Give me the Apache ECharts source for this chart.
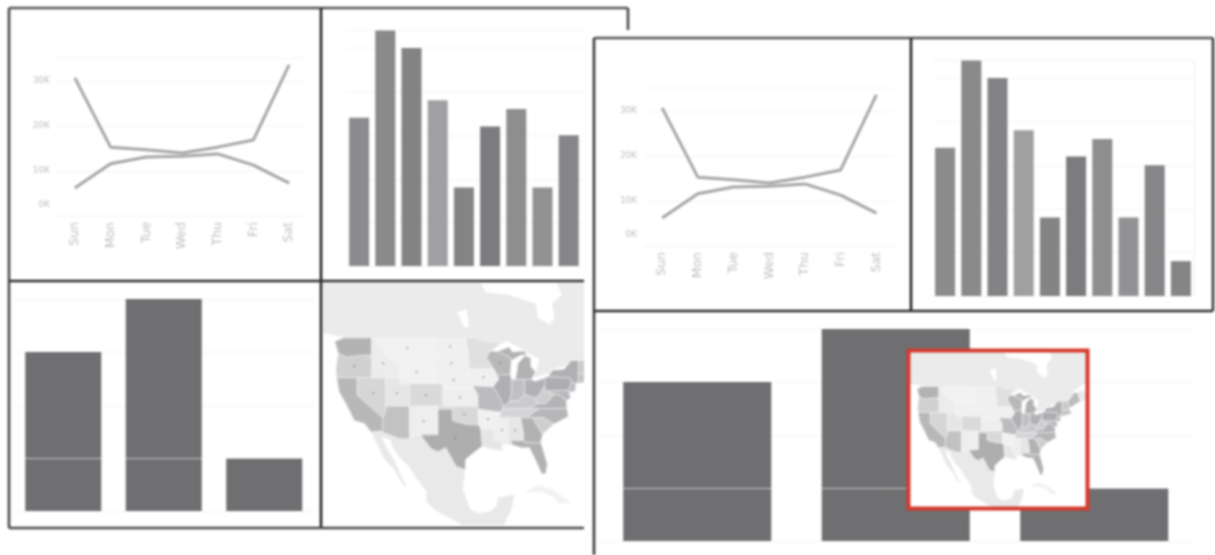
<!DOCTYPE html>
<html><head><meta charset="utf-8">
<style>html,body{margin:0;padding:0;background:#fff}#c{width:1215px;height:555px;filter:blur(0.8px)}</style>
<script src="https://cdn.jsdelivr.net/npm/echarts@6/dist/echarts.min.js"></script>
</head><body><div id="c"></div>
<script>
// ---- data ----
const days = ['Sun','Mon','Tue','Wed','Thu','Fri','Sat'];
const lineA = [30.7,15.3,14.7,14,15.3,16.9,33.6];
const lineB = [6.2,11.6,13.1,13.3,13.8,11.3,7.3];
const lineTicks = [2.5,10,20,30];
const lineTickText = {2.5:'0K',10:'10K',20:'20K',30:'30K'};
const tenBars = ['A','B','C','D','E','F','G','H','I','J'];
const tenValues = [34,54,50,38,18,32,36,18,30,8];
const tenShades = ['#8c8c8e','#8a8a8a','#838385','#a0a0a2','#848484','#7c7c7e','#8e8e90','#929294','#868688','#858585'];
const threeBars = ['X','Y','Z'];
const threeValues = [30,40,10];

const stateNames = ['WA','OR','CA','NV','ID','MT','WY','UT','AZ','CO','NM','ND','SD','NE','KS','OK','TX','MN','IA','MO','AR','LA','WI','IL','IN','MI','OH','KY','TN','MS','AL','GA','FL','SC','NC','VA','WV','MD','PA','NJ','NY','NE3','VN','ME'];
const stateShades = ['#b3b3b3','#d0d0d0','#b8b8b8','#d6d6d6','#ececec','#f1f1f1','#f1f1f1','#e6e6e6','#c2c2c2','#dadada','#eeeeee','#f0f0f0','#f0f0f0','#f0f0f0','#eeeeee','#d8d8d8','#aeaeae','#e0e0e0','#f0f0f0','#bcbcc0','#f1f1f1','#e6e6e6','#b8b8b8','#b0b0b4','#c0c0c4','#b2b2b4','#b2b2b6','#cacace','#d4d4d8','#eeeeee','#e6e6e6','#b2b2b4','#b2b2b4','#cecece','#b6b6b8','#b4b4b8','#cececf','#b8b8bc','#aeaeb2','#bcbcbc','#b0b0b4','#c4c4c4','#c8c8c8','#bcbcbc'];
const dottedStates = ['OR','ID','MT','WY','NV','UT','CO','NM','ND','SD','NE','KS','OK','IA','AR','WI','AL','MS','TX'];
const backNames = ['Canada','NB','Winnipeg','Mexico','Cuba'];
const backShades = ['#ebebeb','#ebebeb','#ffffff','#e9e9e9','#f2f2f2'];
const outlines = {
WA:[[[-124.7,48.4],[-122.8,49],[-117,49],[-117,46],[-119,45.9],[-122.3,45.6],[-124,46.3]]],
OR:[[[-124,46.3],[-122.3,45.6],[-119,45.9],[-117,46],[-116.9,44],[-117,42],[-124.3,42],[-124.5,43.5]]],
CA:[[[-124.3,42],[-120,42],[-120,39],[-114.6,35],[-114.7,32.7],[-117.1,32.5],[-118.5,34],[-120.6,34.5],[-122.4,37.5],[-123.8,39.5]]],
NV:[[[-120,42],[-114,42],[-114,36.2],[-114.6,35],[-120,39]]],
ID:[[[-117,49],[-116,49],[-116,47.9],[-114.5,46.6],[-113.5,45.5],[-111,44.5],[-111,42],[-117,42],[-116.9,44],[-117,46]]],
MT:[[[-116,49],[-104,49],[-104,45],[-111,45],[-111,44.5],[-113.5,45.5],[-114.5,46.6],[-116,47.9]]],
WY:[[[-111,45],[-104,45],[-104,41],[-111,41]]],
UT:[[[-114,42],[-111,42],[-111,41],[-109,41],[-109,37],[-114,37]]],
AZ:[[[-114,37],[-109,37],[-109,31.3],[-111,31.3],[-114.8,32.5],[-114.7,32.7],[-114.6,35],[-114,36.2]]],
CO:[[[-109,41],[-102,41],[-102,37],[-109,37]]],
NM:[[[-109,37],[-103,37],[-103,32],[-106.6,32],[-106.5,31.8],[-108.2,31.8],[-108.2,31.3],[-109,31.3]]],
ND:[[[-104,49],[-97.2,49],[-96.6,46],[-104,46]]],
SD:[[[-104,46],[-96.6,46],[-96.5,42.5],[-98,43],[-104,43]]],
NE:[[[-104,43],[-98,43],[-96.5,42.5],[-95.3,40],[-102,40],[-102,41],[-104,41]]],
KS:[[[-102,40],[-95.3,40],[-94.6,39],[-94.6,37],[-102,37]]],
OK:[[[-103,37],[-94.6,37],[-94.4,33.7],[-97,33.8],[-100,34.5],[-100,36.5],[-103,36.5]]],
TX:[[[-103,36.5],[-100,36.5],[-100,34.5],[-97,33.8],[-94.4,33.7],[-94,33],[-93.7,30],[-95,29.2],[-97.2,27.7],[-97.3,25.9],[-99.2,26.5],[-101.4,29.8],[-103,29],[-104.5,29.6],[-106.5,31.8],[-106.6,32],[-103,32]]],
MN:[[[-97.2,49],[-95.2,49],[-94.5,48.7],[-92,48.3],[-89.6,48],[-92,46.7],[-92.8,45.5],[-91.2,43.5],[-96.5,43.5],[-96.6,46]]],
IA:[[[-96.5,43.5],[-91.2,43.5],[-90.2,41.8],[-91.4,40.4],[-95.7,40.6],[-96.5,42.5]]],
MO:[[[-95.7,40.6],[-91.4,40.4],[-90.2,38.8],[-89.2,37],[-89.7,36],[-90.4,36],[-94.6,36.5],[-94.6,39],[-95.3,40]]],
AR:[[[-94.6,36.5],[-90.4,36],[-89.7,36],[-91.2,33],[-94,33],[-94.4,33.7]]],
LA:[[[-94,33],[-91.2,33],[-91,31],[-89.7,31],[-89.4,29.3],[-91.5,29.4],[-93.7,30]]],
WI:[[[-92,46.7],[-90.5,46.6],[-88,45.7],[-87.6,45],[-87.8,42.5],[-90.6,42.5],[-91.2,43.5],[-92.8,45.5]]],
IL:[[[-90.6,42.5],[-87.8,42.5],[-87.5,41.7],[-87.5,39.3],[-88,37.8],[-89.2,37],[-90.2,38.8],[-91.4,40.4],[-90.2,41.8]]],
IN:[[[-87.5,41.7],[-84.8,41.7],[-84.8,39.1],[-86,38],[-88,37.8],[-87.5,39.3]]],
MI:[[[-84.8,41.7],[-83.4,41.7],[-82.5,43],[-83.5,44],[-83.5,45.5],[-84.8,45.8],[-86.2,44.5],[-86.5,42.5],[-86.8,41.75]],[[-90.5,46.6],[-88,47.4],[-87.4,46.5],[-85,46.7],[-84.2,46],[-85.5,46],[-87.6,45],[-88,45.7]]],
OH:[[[-84.8,41.7],[-83.4,41.7],[-82.5,41.4],[-80.5,42],[-80.5,40.6],[-81.7,39],[-82.6,38.4],[-84.8,39.1]]],
KY:[[[-89.2,37],[-88,37.8],[-86,38],[-84.8,39.1],[-82.6,38.4],[-82,37.5],[-83.7,36.6],[-89.5,36.5]]],
TN:[[[-89.7,36],[-89.5,36.5],[-83.7,36.6],[-81.7,36.6],[-84.3,35],[-90.2,35]]],
MS:[[[-90.2,35],[-88.2,35],[-88.4,30.3],[-89.7,30.2],[-89.7,31],[-91,31],[-91.2,33]]],
AL:[[[-88.2,35],[-85.6,35],[-85,32.3],[-85,31],[-87.6,31],[-87.5,30.3],[-88.4,30.3]]],
GA:[[[-85.6,35],[-83.1,35],[-81,32.1],[-81.4,30.7],[-82.2,30.5],[-84.9,30.7],[-85,31],[-85,32.3]]],
FL:[[[-87.6,31],[-85,31],[-84.9,30.7],[-82.2,30.5],[-81.4,30.7],[-80,26.8],[-80.4,25.2],[-81.2,25.2],[-82.7,28],[-83.8,29.8],[-85.3,29.7],[-87.5,30.3]]],
SC:[[[-83.1,35],[-81,35.1],[-78.6,33.9],[-81,32.1]]],
NC:[[[-84.3,35],[-81.7,36.6],[-75.9,36.6],[-75.6,35.2],[-78.6,33.9],[-81,35.1],[-83.1,35]]],
VA:[[[-83.7,36.6],[-82,37.5],[-80.3,37.5],[-78.4,39.2],[-77,38.8],[-76,37.9],[-75.9,36.6],[-81.7,36.6]]],
WV:[[[-82.6,38.4],[-81.7,39],[-80.5,40.6],[-80.5,39.7],[-79.5,39.7],[-79.5,39.2],[-78.4,39.2],[-80.3,37.5],[-82,37.5]]],
MD:[[[-79.5,39.7],[-75.6,39.8],[-75.1,38.5],[-76,38],[-77,38.8],[-78.4,39.2],[-79.5,39.2]]],
PA:[[[-80.5,42],[-79.8,42.2],[-75.3,42],[-74.8,41.3],[-75.6,39.8],[-80.5,39.7]]],
NJ:[[[-74.8,41.3],[-74,41],[-74.2,39.6],[-75.5,39.5],[-75.6,39.8]]],
NY:[[[-79.8,42.2],[-79,43.3],[-76.5,43.5],[-75,45],[-73.4,45],[-73.5,41.2],[-74,41],[-74.8,41.3],[-75.3,42]]],
NE3:[[[-73.5,42.7],[-70.8,42.8],[-70,41.7],[-71.8,41.3],[-73.6,41]]],
VN:[[[-73.4,45],[-71.5,45],[-70.8,43.2],[-70.8,42.8],[-73.5,42.7]]],
ME:[[[-71.5,45],[-70.3,46],[-69.2,47.4],[-68,47.3],[-67,45],[-70.8,43.2]]],
Canada:[[[-127.2,58.6],[-94,58.6],[-93,57],[-88,56.5],[-82.5,55],[-82,52.5],[-79.5,51.3],[-78.5,52.5],[-79,55],[-77,56.5],[-78,58.6],[-65,58.6],[-65,50],[-67,49],[-70,47.5],[-69.2,47.4],[-70.3,46],[-71.5,45],[-75,45],[-76.5,44],[-79.5,43.4],[-79,42.9],[-83,42],[-82.4,43],[-81.7,45.2],[-84.3,46.5],[-88.5,48.5],[-89.6,48],[-92,48.3],[-94.5,48.7],[-95.2,49],[-122.8,49],[-124.5,49.4],[-127.2,49.7]]],
NB:[[[-69.2,47.4],[-66,48],[-65,47],[-65,45.5],[-67,45],[-68,47.3]]],
Winnipeg:[[[-99,53.5],[-97,54],[-96.5,51],[-97.5,50.8]]],
Mexico:[[[-117.1,32.5],[-114.7,32.7],[-114.8,32.5],[-111,31.3],[-108.2,31.3],[-108.2,31.8],[-106.5,31.8],[-104.5,29.6],[-103,29],[-101.4,29.8],[-99.2,26.5],[-97.3,25.9],[-97.8,22.5],[-96.3,19],[-94.5,18.2],[-92,18.6],[-90.7,19.5],[-90.4,21],[-87,21.5],[-87.5,19],[-88.2,17.8],[-89.2,16.2],[-94,16.2],[-98,16.2],[-100,17.2],[-104,19],[-105.5,20.4],[-105.4,22],[-108,25],[-109.4,26.7],[-111,28],[-112.7,30],[-113,31.2],[-114.8,31.7],[-114,30],[-112.2,27.5],[-110.3,24],[-109.5,23],[-110.3,23.2],[-112.3,26],[-114.5,28],[-115.8,30.3]]],
Cuba:[[[-84.9,21.9],[-82,23.1],[-79,22.5],[-75,20.2],[-77.5,19.9],[-78.5,21],[-81.5,22.1]]]
};
const naGeo = {type:'FeatureCollection',features:Object.keys(outlines).map(k=>({type:'Feature',properties:{name:k},geometry:{type:'MultiPolygon',coordinates:outlines[k].map(r=>[r.concat([r[0]])])}}))};
echarts.registerMap('naTile',naGeo);
echarts.registerMap('naInset',JSON.parse(JSON.stringify(naGeo)));
function mapData(withDots){
  return backNames.map((n,i)=>({name:n,itemStyle:{areaColor:backShades[i],borderColor:backShades[i],borderWidth:0}}))
  .concat(stateNames.map((n,i)=>({name:n,itemStyle:{areaColor:stateShades[i]},
    label:{show:withDots&&dottedStates.includes(n),formatter:'•',fontSize:6,color:'#6a6a6a'}})));
}

const gridLine = '#f5f5f5', tickText = '#bdbdbd';
function lineParts(idx,left,top,z){
  return {
    grid:{left,top,width:250,height:157.5},
    x:{type:'category',gridIndex:idx,data:days,z,axisTick:{show:false},axisLine:{lineStyle:{color:'#f3f3f3'}},
       axisLabel:{rotate:90,color:tickText,fontSize:12.5,margin:6,fontFamily:'DejaVu Sans',interval:0}},
    y:{type:'value',gridIndex:idx,min:0,max:35,z,axisLine:{show:false},axisTick:{show:false},
       splitLine:{lineStyle:{color:gridLine}},
       axisLabel:{customValues:lineTicks,formatter:v=>lineTickText[v],color:tickText,fontSize:9,margin:7,fontFamily:'DejaVu Sans'}},
    series:[lineA,lineB].map(d=>({type:'line',xAxisIndex:idx,yAxisIndex:idx,data:d,z:z+5,symbol:'none',silent:true,lineStyle:{color:'#a6a6a6',width:3}}))
  };
}
function barParts(idx,g,names,vals,max,bw,shades,z,split){
  return {
    grid:g,
    x:{type:'category',gridIndex:idx,data:names,z,axisTick:{show:false},axisLabel:{show:false},axisLine:{lineStyle:{color:'#f5f5f5'}}},
    y:{type:'value',gridIndex:idx,min:0,max,interval:10,z,axisLabel:{show:false},axisTick:{show:false},axisLine:{show:split,lineStyle:{color:'#f0f0f0'}},position:'right',splitLine:{lineStyle:{color:gridLine}}},
    series:[{type:'bar',xAxisIndex:idx,yAxisIndex:idx,barWidth:bw,z:z+5,silent:true,
      data:vals.map((v,i)=>({value:v,itemStyle:{color:shades?shades[i]:'#6f6f71'}})),
      markLine:split?undefined:{silent:true,symbol:'none',z:z+6,label:{show:false},lineStyle:{color:'rgba(255,255,255,0.6)',width:1,type:'solid'},data:[{yAxis:10}]}}]
  };
}
const parts = [
  lineParts(0,57,58.5,1),
  barParts(1,{left:346,top:30.6,width:262,height:235.4},tenBars,tenValues,54,20,tenShades,1,true),
  barParts(2,{left:13,top:299,width:301.5,height:212},threeBars,threeValues,40,76,null,1,false),
  lineParts(3,644.25,88.5,15),
  barParts(4,{left:932,top:60.6,width:262,height:235.4},tenBars,tenValues,54,20,tenShades,15,true),
  barParts(5,{left:598,top:329,width:595.5,height:212},threeBars,threeValues,40,148,null,15,false)
];
function mapSeries(name,box,bounds,aspect,z,dots){
  return Object.assign({type:'map',map:name,boundingCoords:bounds,aspectScale:aspect,roam:false,silent:true,z,
    label:{show:false},emphasis:{disabled:true},select:{disabled:true},
    itemStyle:{borderColor:'#f6f6f6',borderWidth:0.5,areaColor:'#eeeeee'},data:mapData(dots)},box);
}
const ln=(x1,y1,x2,y2,z,c)=>({type:'line',z,silent:true,shape:{x1,y1,x2,y2},style:{stroke:c,lineWidth:2.6,fill:null}});
const chart = echarts.init(document.getElementById('c'));
chart.setOption({
  animation:false,backgroundColor:'#fff',
  grid:parts.map(p=>p.grid),
  xAxis:parts.map(p=>p.x),
  yAxis:parts.map(p=>p.y),
  series:parts.flatMap(p=>p.series).concat([
    mapSeries('naTile',{left:323,top:283,width:261,height:242},[[-127.2,58.6],[-72.3,16.2]],0.833,3,true),
    mapSeries('naInset',{left:910,top:351,width:176,height:157},[[-127.2,58.6],[-65,16.2]],0.76,35,false)
  ]),
  graphic:{elements:[
    ln(9,8,628,8,2,'#555'),ln(9,8,9,528,2,'#4a4a4a'),ln(628,8,628,30,2,'#4a4a4a'),ln(321,8,321,528,2,'#222'),ln(9,281,584,281,2,'#2e2e2e'),ln(9,528,584,528,2,'#4a4a4a'),
    {type:'rect',z:10,silent:true,shape:{x:584,y:30,width:640,height:530},style:{fill:'#fff'}},
    ln(594,38,1213,38,12,'#555'),ln(594,38,594,556,12,'#3a3a3a'),ln(1213,38,1213,311,12,'#3a3a3a'),ln(911,38,911,311,12,'#222'),ln(594,311,1213,311,12,'#2e2e2e'),
    {type:'rect',z:30,silent:true,shape:{x:908.5,y:350.5,width:179,height:158},style:{fill:'#fff'}},
    {type:'rect',z:40,silent:true,shape:{x:908.5,y:350.5,width:179,height:158},style:{fill:null,stroke:'#d5392d',lineWidth:4}}
  ]}
});
</script></body></html>
